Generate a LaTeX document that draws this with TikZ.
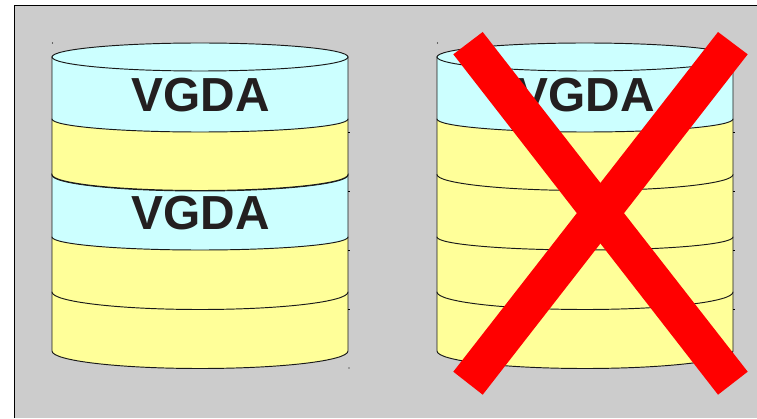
\documentclass[tikz,border=0pt]{standalone}
\usepackage{fontspec}
\setmainfont{Liberation Sans}
\definecolor{bggray}{HTML}{CCCCCC}
\definecolor{diskcyan}{HTML}{CCFFFF}
\definecolor{diskyellow}{HTML}{FFFF99}
\definecolor{inktext}{HTML}{231F20}
\tikzset{
  outline/.style={draw=black!90,line width=0.95pt},
  vgdalabel/.style={font=\fontsize{47.8}{50}\selectfont\bfseries,text=inktext,inner sep=0pt,anchor=center},
  crossarm/.style={fill=red,draw=none},
  speck/.style={line width=0.6pt,draw=black}
}
% #1 x left, #2 top side y, #3 bottom side y, #4 sag, #5 colour
\newcommand{\diskband}[5]{%
  \path[outline,fill=#5] (#1,#2) -- (#1,#3) arc[start angle=180,end angle=360,x radius=148,y radius=#4] -- (#1+296,#2) -- cycle;
}
% #1 x left
\newcommand{\diskcap}[1]{%
  \path[outline,fill=diskcyan] (#1+148,361) ellipse[x radius=148,y radius=14];
}
\newcommand{\sideticks}[1]{%
  \foreach \yy in {286,227,168,109} {\draw[speck] (#1+296,\yy) -- ++(2,0);}
}
\begin{document}
\begin{tikzpicture}[x=1pt,y=1pt]
\useasboundingbox (0,0) rectangle (757,418);
\fill[bggray] (14.5,0) rectangle (757,412.5);
\draw[black,line width=1pt] (14.5,0) -- (14.5,412.5) -- (757,412.5);
% left cylinder
\diskband{52}{126}{67}{17.5}{diskyellow}
\diskband{52}{181}{126}{17.5}{diskyellow}
\diskband{52}{244.5}{181}{13}{diskcyan}
\diskband{52}{243.5}{243}{16}{diskcyan}
\diskband{52}{299}{243.5}{16}{diskyellow}
\path[outline,fill=diskcyan] (52,361) -- (52,299) arc[start angle=180,end angle=360,x radius=148,y radius=13] -- (348,361) -- cycle;
\diskcap{52}
\node[vgdalabel] (topa) at (200.5,322.5) {VGDA};
\node[vgdalabel] (topb) at (200.5,204.5) {VGDA};
\sideticks{52}
\fill (52.5,375) circle[radius=0.6];
\fill (349,50) circle[radius=0.6];
% right cylinder
\diskband{437}{126}{67}{17.5}{diskyellow}
\diskband{437}{181}{126}{17.5}{diskyellow}
\diskband{437}{243.5}{181}{13}{diskyellow}
\diskband{437}{299}{243.5}{16}{diskyellow}
\path[outline,fill=diskcyan] (437,361) -- (437,299) arc[start angle=180,end angle=360,x radius=148,y radius=13] -- (733,361) -- cycle;
\diskcap{437}
\node[vgdalabel] (topc) at (585.5,322.5) {VGDA};
\sideticks{437}
\fill (437.5,375) circle[radius=0.6];
% red cross
\fill[crossarm] (482.7,386) -- (453.3,363.7) -- (718,23.3) -- (747.7,46.3) -- cycle;
\fill[crossarm] (718,386) -- (747.7,363.7) -- (482.7,23.3) -- (453.3,46.3) -- cycle;
\end{tikzpicture}
\end{document}
